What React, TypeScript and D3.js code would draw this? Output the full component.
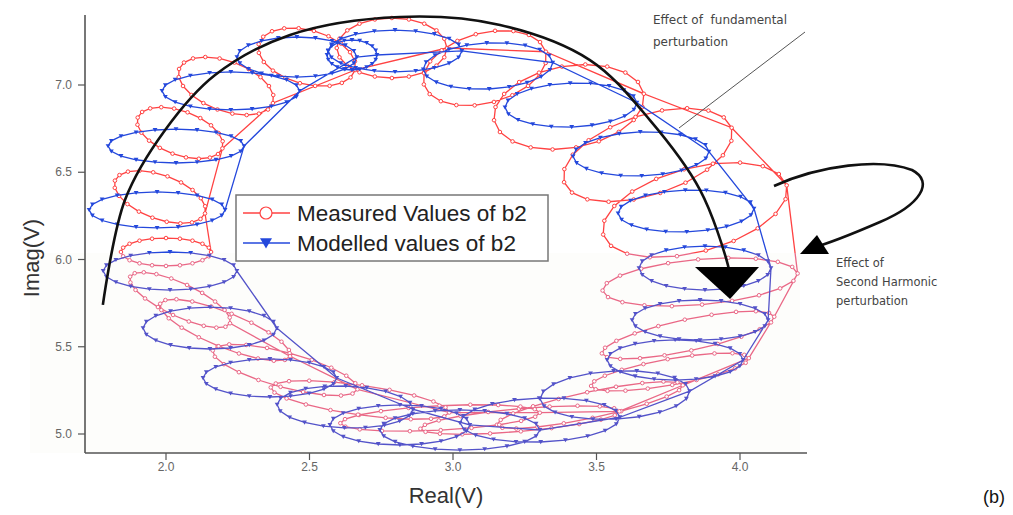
import React from "react";
import * as d3 from "d3";

// Axis ticks
const xTicks = [2.0, 2.5, 3.0, 3.5, 4.0];
const yTicks = [5.0, 5.5, 6.0, 6.5, 7.0];

// Modelled b2 loops: centre (Real, Imag), half-widths, tilt (deg)
const modelRe = [1.969, 2.035, 2.226, 2.456, 2.648, 2.798, 3.122, 3.411, 3.655, 3.812, 3.878, 3.861, 3.774, 3.564, 3.303, 3.024, 2.815, 2.624, 2.362, 2.153, 2.014];
const modelIm = [6.284, 6.650, 6.966, 7.160, 7.172, 7.195, 7.109, 6.885, 6.605, 6.278, 5.951, 5.653, 5.424, 5.223, 5.080, 5.023, 5.052, 5.155, 5.321, 5.607, 5.934];
const modelRRe = [0.237, 0.237, 0.240, 0.209, 0.087, 0.233, 0.226, 0.230, 0.237, 0.237, 0.230, 0.237, 0.237, 0.261, 0.279, 0.279, 0.244, 0.237, 0.233, 0.233, 0.233];
const modelRIm = [0.103, 0.097, 0.109, 0.115, 0.086, 0.120, 0.132, 0.126, 0.126, 0.120, 0.126, 0.115, 0.115, 0.138, 0.126, 0.115, 0.115, 0.120, 0.109, 0.120, 0.109];
const modelTilt = [0, 0, 0, 0, 0, 0, -3, -2, -2, -2, 0, 0, 0, -3, -2, 0, 0, 2, 0, 0, 0];

// Measured b2 loops
const measRe = [2.000, 1.979, 2.049, 2.209, 2.491, 2.787, 3.111, 3.404, 3.679, 3.843, 3.861, 3.819, 3.756, 3.477, 3.233, 2.955, 2.676, 2.415, 2.206, 2.049];
const measIm = [6.043, 6.358, 6.725, 6.994, 7.160, 7.212, 7.097, 6.874, 6.599, 6.284, 5.871, 5.567, 5.355, 5.166, 5.080, 5.092, 5.195, 5.367, 5.596, 5.768];
const measRRe = [0.157, 0.167, 0.157, 0.174, 0.174, 0.192, 0.220, 0.265, 0.307, 0.331, 0.341, 0.307, 0.279, 0.331, 0.348, 0.348, 0.314, 0.261, 0.244, 0.192];
const measRIm = [0.080, 0.126, 0.126, 0.143, 0.155, 0.172, 0.201, 0.235, 0.229, 0.241, 0.130, 0.090, 0.075, 0.075, 0.065, 0.070, 0.085, 0.100, 0.100, 0.095];
const measTilt = [0, 20, 20, 20, 15, 0, -15, -10, -18, -15, -5, -12, -10, -12, -5, -3, 8, 15, 22, 25];

// Guide arc (fundamental sweep) in data units
const arcRe = [1.78, 1.857, 1.997, 2.171, 2.432, 2.815, 3.164, 3.477, 3.686, 3.861, 3.958, 3.965];
const arcIm = [5.74, 6.341, 6.742, 7.057, 7.287, 7.390, 7.344, 7.143, 6.799, 6.398, 5.968, 5.90];

const W = 1013;
const H = 515;
const RED = "#ff4242";
const BLUE = "#2448dc";
const RED_LOW = "#e8587a";
const BLUE_LOW = "#4141c4";
const PTS = 20;

const x = d3.scaleLinear().domain([2, 4]).range([166, 740]);
const y = d3.scaleLinear().domain([5, 7]).range([434, 85]);

type P = [number, number];

function loop(cx: number, cy: number, rx: number, ry: number, tilt: number): P[] {
  const ox = x(cx);
  const oy = y(cy);
  const ax = x(cx + rx) - ox;
  const ay = y(cy) - y(cy + ry);
  const a = (tilt * Math.PI) / 180;
  const out: P[] = [];
  for (let k = 0; k <= PTS; k++) {
    const t = (2 * Math.PI * k) / PTS;
    const dx = ax * Math.cos(t);
    const dy = ay * Math.sin(t);
    out.push([ox + dx * Math.cos(a) - dy * Math.sin(a), oy + dx * Math.sin(a) + dy * Math.cos(a)]);
  }
  return out;
}

function series(re: number[], im: number[], rre: number[], rim: number[], tilt: number[]) {
  const loops = re.map((_, i) => loop(re[i], im[i], rre[i], rim[i], tilt[i]));
  const path: P[] = loops.flat();
  const markers: P[] = loops.flatMap((l) => l.slice(0, PTS));
  return { path, markers };
}

const line = d3.line<P>();
const tri = (cx: number, cy: number, s: number) =>
  `M${cx - s},${cy - s * 0.8}L${cx + s},${cy - s * 0.8}L${cx},${cy + s * 0.9}Z`;

const model = series(modelRe, modelIm, modelRRe, modelRIm, modelTilt);
const meas = series(measRe, measIm, measRRe, measRIm, measTilt);

function Traces({ red, blue, op }: { red: string; blue: string; op: number }) {
  return (
    <g opacity={op}>
      <path d={line(meas.path) || ""} fill="none" stroke={red} strokeWidth={1.3} />
      {meas.markers.map((p, i) => (
        <circle key={"m" + i} cx={p[0]} cy={p[1]} r={1.8} fill="#fff" stroke={red} strokeWidth={1} />
      ))}
      <path d={line(model.path) || ""} fill="none" stroke={blue} strokeWidth={1.3} />
      {model.markers.map((p, i) => (
        <path key={"b" + i} d={tri(p[0], p[1], 2.4)} fill={blue} />
      ))}
    </g>
  );
}

export default function App() {
  const arc = d3
    .line<number>()
    .x((i) => x(arcRe[i]))
    .y((i) => y(arcIm[i]))
    .curve(d3.curveCatmullRom)(arcRe.map((_, i) => i));

  const axisColor = "#555";
  const tickFont = { fontFamily: "Liberation Sans, Arial, sans-serif", fontSize: 12, fill: "#666" };

  return (
    <svg width={W} height={H} style={{ position: "absolute", left: 0, top: 0, background: "#fff" }}>
      <defs>
        <clipPath id="upperPart">
          <rect x={0} y={0} width={W} height={253} />
        </clipPath>
        <clipPath id="lowerPart">
          <rect x={0} y={253} width={W} height={H - 253} />
        </clipPath>
      </defs>

      {/* very faint backdrop of the lower (second harmonic) section */}
      <rect x={30} y={253} width={770} height={200} fill="#fdfdfb" />

      <g clipPath="url(#upperPart)">
        <Traces red={RED} blue={BLUE} op={1} />
      </g>
      <g clipPath="url(#lowerPart)">
        <Traces red={RED_LOW} blue={BLUE_LOW} op={0.9} />
      </g>

      {/* guide arc with arrow head */}
      <path d={arc || ""} fill="none" stroke="#111" strokeWidth={2.6} />
      <path d="M695,267L759,267L730,299Z" fill="#000" />

      {/* second harmonic arrow */}
      <path d="M774,186C820,165 880,158 912,170C935,182 920,205 880,222C850,235 830,243 812,248" fill="none" stroke="#111" strokeWidth={2.6} />
      <path d="M800,254L817,235L829,254Z" fill="#000" />

      {/* pointer to fundamental loops */}
      <line x1={805} y1={32} x2={679} y2={128} stroke="#555" strokeWidth={1} />

      {/* axes */}
      <line x1={85} y1={15} x2={85} y2={453} stroke={axisColor} strokeWidth={1.6} />
      <line x1={85} y1={453} x2={807} y2={453} stroke={axisColor} strokeWidth={1.6} />
      {yTicks.map((t) => (
        <g key={"yt" + t}>
          <line x1={78} x2={85} y1={y(t)} y2={y(t)} stroke={axisColor} strokeWidth={1.2} />
          <text x={72} y={y(t) + 4} textAnchor="end" {...tickFont}>
            {d3.format(".1f")(t)}
          </text>
        </g>
      ))}
      {xTicks.map((t) => (
        <g key={"xt" + t}>
          <line x1={x(t)} x2={x(t)} y1={453} y2={460} stroke={axisColor} strokeWidth={1.2} />
          <text x={x(t)} y={471} textAnchor="middle" {...tickFont}>
            {d3.format(".1f")(t)}
          </text>
        </g>
      ))}
      <text x={446} y={503} textAnchor="middle" fontFamily="Liberation Sans, Arial, sans-serif" fontSize={22} fill="#333">
        Real(V)
      </text>
      <text transform="translate(39,258) rotate(-90)" textAnchor="middle" fontFamily="Liberation Sans, Arial, sans-serif" fontSize={22} fill="#333">
        Imag(V)
      </text>

      {/* legend */}
      <rect x={236} y={195} width={312} height={66} fill="#fff" stroke="#777" strokeWidth={1.5} />
      <line x1={243} x2={290} y1={213} y2={213} stroke={RED} strokeWidth={1.3} />
      <circle cx={266} cy={213} r={6} fill="#fff" stroke={RED} strokeWidth={1.2} />
      <text x={297} y={221} fontFamily="Liberation Sans, Arial, sans-serif" fontSize={22.5} fill="#222">
        Measured Values of b2
      </text>
      <line x1={243} x2={290} y1={243} y2={243} stroke={BLUE} strokeWidth={1.3} />
      <path d={tri(266, 243, 6)} fill={BLUE} />
      <text x={297} y={251} fontFamily="Liberation Sans, Arial, sans-serif" fontSize={22.5} fill="#222">
        Modelled values of b2
      </text>

      {/* annotations */}
      <g fontFamily="DejaVu Sans, sans-serif" fontSize={12} fill="#444">
        <text x={653} y={24}>{"Effect of\u00A0 fundamental"}</text>
        <text x={653} y={46}>perturbation</text>
      </g>
      <g fontFamily="DejaVu Sans, sans-serif" fontSize={11.5} fill="#444">
        <text x={836} y={267}>Effect of</text>
        <text x={836} y={286}>Second Harmonic</text>
        <text x={836} y={305}>perturbation</text>
      </g>
      <text x={983} y={503} fontFamily="Liberation Sans, Arial, sans-serif" fontSize={18} fill="#111">
        (b)
      </text>
    </svg>
  );
}
